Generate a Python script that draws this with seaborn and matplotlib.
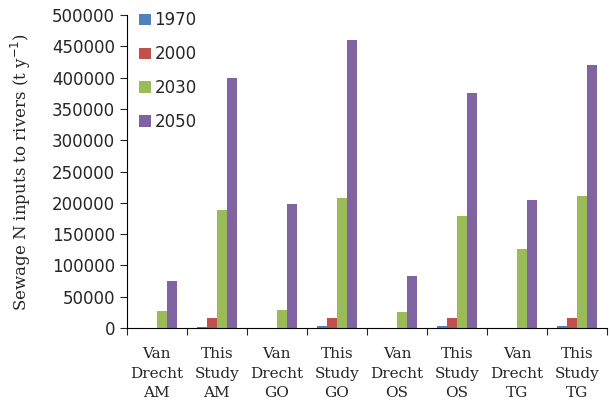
import matplotlib
matplotlib.use('Agg')
import matplotlib.pyplot as plt
import seaborn as sns
import pandas as pd
import numpy as np

categories = ['Van\nDrecht\nAM', 'This\nStudy\nAM', 'Van\nDrecht\nGO', 'This\nStudy\nGO',
              'Van\nDrecht\nOS', 'This\nStudy\nOS', 'Van\nDrecht\nTG', 'This\nStudy\nTG']
years = ['1970', '2000', '2030', '2050']
vals_1970 = [0, 2000, 0, 2500, 0, 3000, 0, 2500]
vals_2000 = [0, 16000, 0, 16000, 0, 16000, 0, 16000]
vals_2030 = [27000, 188000, 29000, 207000, 25000, 179000, 126000, 211000]
vals_2050 = [75000, 400000, 198000, 460000, 83000, 376000, 205000, 421000]
colors = ['#4F81BD', '#C0504D', '#9BBB59', '#8064A2']

rows = []
for yr, vals in zip(years, [vals_1970, vals_2000, vals_2030, vals_2050]):
    for c, v in zip(categories, vals):
        rows.append({'cat': c, 'year': yr, 'value': v})
df = pd.DataFrame(rows)

sns.set_style('white')
fig = plt.figure(figsize=(6.1, 4.09), dpi=100)
ax = fig.add_axes([0.208, 0.198, 0.787, 0.765])

sns.barplot(data=df, x='cat', y='value', hue='year', palette=colors,
            width=0.66, ax=ax, saturation=1, errorbar=None, linewidth=0)

ax.set_ylim(0, 500000)
ax.set_yticks(np.arange(0, 500001, 50000))
ax.set_xlim(-0.5, len(categories) - 0.5)
ax.tick_params(axis='y', labelsize=12, length=5, direction='out', left=True, width=0.8)
for lbl in ax.get_yticklabels():
    lbl.set_family('DejaVu Sans')

ax.set_xticks(np.arange(len(categories)))
ax.set_xticklabels(categories, family='DejaVu Serif', fontsize=11, linespacing=1.5)
ax.tick_params(axis='x', which='major', length=0, pad=14)
ax.set_xticks(np.arange(-0.5, len(categories)), minor=True)
ax.tick_params(axis='x', which='minor', length=5, bottom=True, direction='out', width=0.8)

for s in ['top', 'right']:
    ax.spines[s].set_visible(False)
for s in ['left', 'bottom']:
    ax.spines[s].set_color('black')
    ax.spines[s].set_linewidth(0.8)

ax.set_xlabel('')
ax.set_ylabel(r'Sewage N inputs to rivers (t y$^{-1}$)', family='DejaVu Serif', fontsize=12)
ax.yaxis.set_label_coords(-0.195, 0.5)

leg = ax.legend(loc='upper left', bbox_to_anchor=(-0.005, 1.06), frameon=False,
                fontsize=12, labelspacing=0.95, handlelength=0.7, handleheight=0.7,
                handletextpad=0.2)

plt.savefig('out.png', dpi=100)
